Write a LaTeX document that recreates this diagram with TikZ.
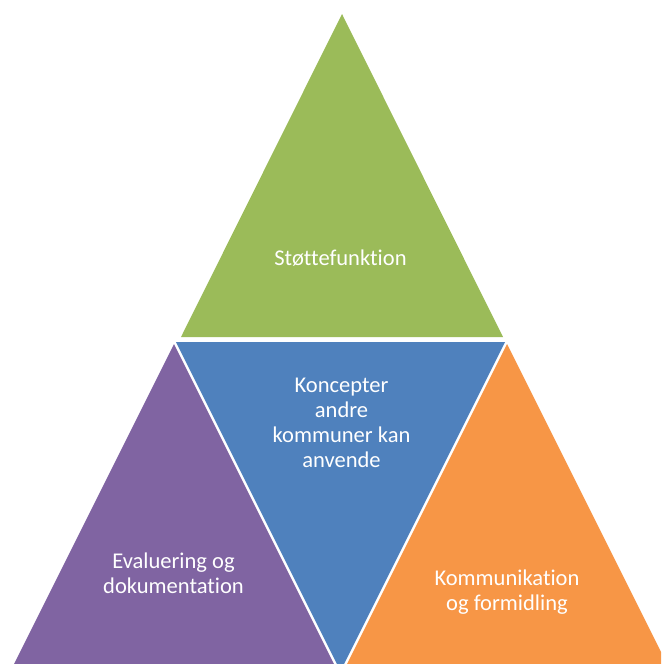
\documentclass[tikz,border=0pt]{standalone}
\usepackage{fontspec}
\setmainfont[Ligatures={NoCommon}]{Carlito}
\definecolor{triGreen}{HTML}{9BBB59}
\definecolor{triBlue}{HTML}{4F81BD}
\definecolor{triPurple}{HTML}{8064A2}
\definecolor{triOrange}{HTML}{F79646}
\tikzset{
  lbl/.style={anchor=base, inner sep=0pt, text=white, font=\fontsize{16.9}{18.75}\selectfont}
}
\begin{document}
\begin{tikzpicture}[x=0.75pt,y=-0.75pt]
\useasboundingbox (0,0) rectangle (661,664);
\clip (0,0) rectangle (661,664);
\fill[white] (0,0) rectangle (661,664);
% triangles
\fill[triGreen]  (342,14) -- (503,337) -- (181,337) -- cycle;
\fill[triBlue]   (176,342) -- (505,342) -- (340.5,671) -- cycle;
\fill[triPurple] (174,344) -- (334,664) -- (14,664) -- cycle;
\fill[triOrange] (507,344) -- (667,664) -- (347,664) -- cycle;
% labels
\node[lbl] (s1) at (340.5,265) {Støttefunktion};
\node[lbl] (k1) at (341.5,392) {Koncepter};
\node[lbl] (k2) at (341.5,417) {andre};
\node[lbl] (k3) at (341.5,442) {kommuner kan};
\node[lbl] (k4) at (341.5,467) {anvende};
\node[lbl] (e1) at (173.5,568) {Evaluering og};
\node[lbl] (e2) at (173.5,593) {dokumentation};
\node[lbl] (m1) at (507,585) {Kommunikation};
\node[lbl] (m2) at (507,610) {og formidling};
\end{tikzpicture}
\end{document}
